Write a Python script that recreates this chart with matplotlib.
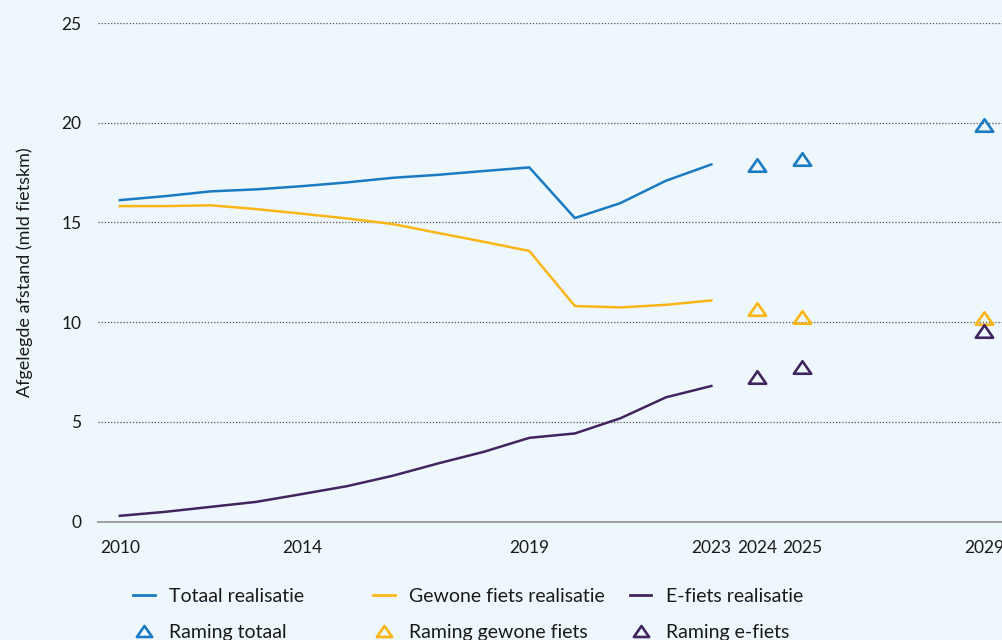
import matplotlib
matplotlib.use('Agg')
import matplotlib.pyplot as plt
from matplotlib.lines import Line2D
from matplotlib.path import Path

# realisatie (mld fietskm)
jaren = [2010, 2011, 2012, 2013, 2014, 2015, 2016, 2017, 2018, 2019, 2020, 2021, 2022, 2023]
totaal = [16.12, 16.32, 16.56, 16.66, 16.82, 17.01, 17.24, 17.39, 17.58, 17.76, 15.22, 15.97, 17.09, 17.91]
gewone_fiets = [15.82, 15.82, 15.86, 15.67, 15.44, 15.2, 14.92, 14.47, 14.03, 13.57, 10.81, 10.74, 10.87, 11.09]
e_fiets = [0.29, 0.49, 0.74, 0.99, 1.38, 1.78, 2.3, 2.92, 3.5, 4.2, 4.42, 5.18, 6.23, 6.8]

# ramingen
raming_jaren = [2024, 2025, 2029]
raming_totaal = [17.9, 18.17, 19.87]
raming_gewone = [10.67, 10.26, 10.2]
raming_e = [7.24, 7.73, 9.57]

xticks = [2010, 2014, 2019, 2023, 2024, 2025, 2029]
yticks = [0, 5, 10, 15, 20, 25]

blauw = '#1a7bc2'
geel = '#fab517'
paars = '#42255f'
achtergrond = '#eef7fc'

plt.rcParams['font.family'] = ['Lato', 'DejaVu Sans']

fig = plt.figure(figsize=(10.03, 6.4), dpi=100, facecolor=achtergrond)
ax = fig.add_axes([0.0977, 0.185, 0.9023, 0.779])
ax.set_facecolor(achtergrond)

ax.plot(jaren, totaal, color=blauw, lw=1.8, solid_joinstyle='miter')
ax.plot(jaren, gewone_fiets, color=geel, lw=1.8, solid_joinstyle='miter')
ax.plot(jaren, e_fiets, color=paars, lw=1.8, solid_joinstyle='miter')

# brede open driehoek
tri = Path([(-1, -0.72), (1, -0.72), (0, 0.72), (-1, -0.72)], closed=True)
ms = 12.5
ax.plot(raming_jaren, raming_totaal, ls='none', marker=tri, ms=ms, mfc='none', mec=blauw, mew=1.9)
ax.plot(raming_jaren, raming_gewone, ls='none', marker=tri, ms=ms, mfc='none', mec=geel, mew=1.9)
ax.plot(raming_jaren, raming_e, ls='none', marker=tri, ms=ms, mfc='none', mec=paars, mew=1.9)

ax.set_xlim(2009.52, 2029.41)
ax.set_ylim(0, 25)
ax.set_xticks(xticks)
ax.set_yticks(yticks)
ax.tick_params(axis='both', length=0, labelsize=12.5, colors='#1a1a1a')
ax.tick_params(axis='y', pad=12)
ax.tick_params(axis='x', pad=13)
for y in yticks[1:]:
    ax.axhline(y, color='#555555', lw=0.9, ls=(0, (1, 1.5)), zorder=0)
for s in ['top', 'right', 'left']:
    ax.spines[s].set_visible(False)
ax.spines['bottom'].set_color('#a0a0a0')
ax.spines['bottom'].set_linewidth(1.4)
ax.set_ylabel('Afgelegde afstand (mld fietskm)', fontsize=13, color='#1a1a1a', labelpad=20)

# legenda in drie kolommen
groepen = [
    (blauw, 'Totaal realisatie', 'Raming totaal', 0.133),
    (geel, 'Gewone fiets realisatie', 'Raming gewone fiets', 0.372),
    (paars, 'E-fiets realisatie', 'Raming e-fiets', 0.628),
]
for kleur, lijn_label, raming_label, xpos in groepen:
    handles = [
        Line2D([], [], color=kleur, lw=2),
        Line2D([], [], ls='none', marker=tri, ms=11, mfc='none', mec=kleur, mew=1.9),
    ]
    leg = fig.legend(handles, [lijn_label, raming_label], loc='upper left',
                     bbox_to_anchor=(xpos, 0.081), frameon=False, fontsize=14,
                     handlelength=1.1, handletextpad=0.75, labelspacing=0.95,
                     borderaxespad=0, borderpad=0)
    for t in leg.get_texts():
        t.set_color('#1a1a1a')

fig.savefig('out.png', dpi=100, facecolor=achtergrond)
